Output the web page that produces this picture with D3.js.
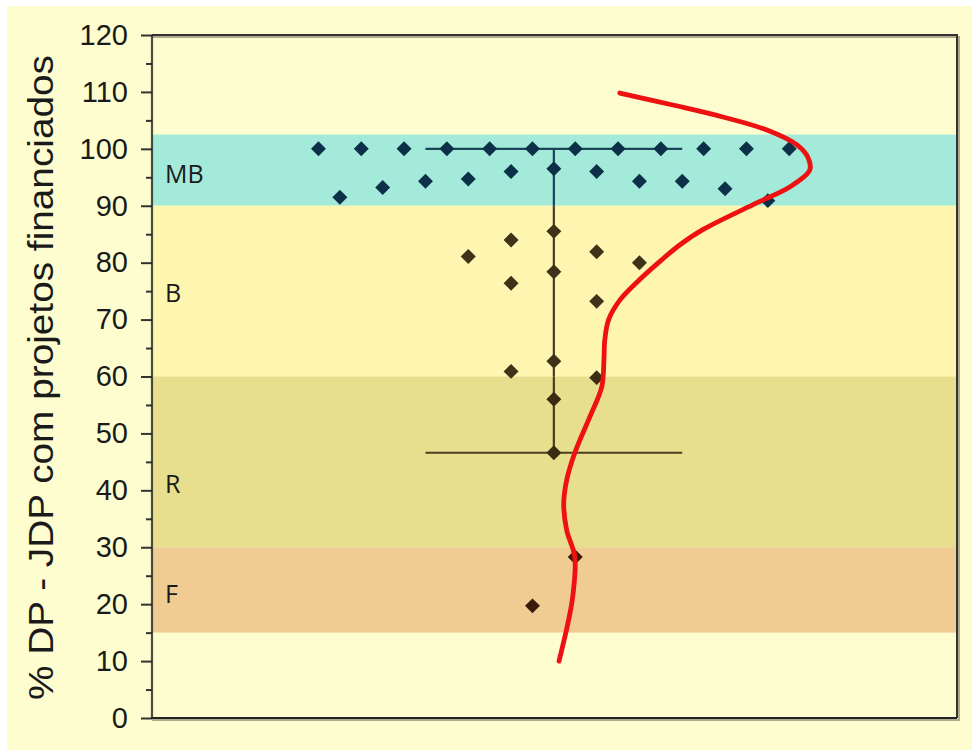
<!DOCTYPE html>
<html>
<head>
<meta charset="utf-8">
<script src="https://cdn.jsdelivr.net/npm/d3@7"></script>
<style>
  html, body { margin: 0; padding: 0; background: #ffffff; }
  svg { display: block; }
</style>
</head>
<body>
<svg id="chart" width="972" height="752"></svg>
<script>
// ---------------- data ----------------
const yTicks = [0, 10, 20, 30, 40, 50, 60, 70, 80, 90, 100, 110, 120];
const yMinorTicks = [5, 15, 25, 35, 45, 55, 65, 75, 85, 95, 105, 115];

const bandNames = ["MB", "B", "R", "F"];
const bandLow   = [90, 60, 30, 15];
const bandHigh  = [102.5, 90, 60, 30];
const bandLabelValue = [94.0, 73.1, 39.5, 20.2];

// point positions: column offset (x) and % value (y)
const pointX = [
  -5.5, -4.5, -3.5, -2.5, -1.5, -0.5, 0.5, 1.5, 2.5, 3.5, 4.5, 5.5,
  -5, -4, -3, -2, -1, 0, 1, 2, 3, 4, 5,
  0, -1, -2, 1, 2, 0, -1, 1, 0, -1, 1, 0, 0, 0.5, -0.5
];
const pointY = [
  100, 100, 100, 100, 100, 100, 100, 100, 100, 100, 100, 100,
  91.5, 93.2, 94.3, 94.7, 96.0, 96.5, 96.0, 94.3, 94.3, 93.0, 90.9,
  85.5, 84.0, 81.1, 81.9, 80.0, 78.4, 76.4, 73.2, 62.7, 60.9, 59.8, 56.0, 46.6, 28.3, 19.7
];

const whiskerHigh = 100;
const whiskerLow = 46.6;
const whiskerCap = 3;

// density curve (sideways): value (y) and width (x offset)
const densityY = [10, 16.7, 21.3, 28.3, 33, 37.5, 41.8, 46.6, 52.9, 58.2, 62.9, 66.4, 70.0, 73.5, 77.0, 80.5, 83.1, 85.8, 90.5, 93.3, 96.3, 98.6, 100.7, 103.3, 105.6, 107.7, 109.8];
const densityX = [0.12, 0.33, 0.44, 0.49, 0.30, 0.23, 0.30, 0.49, 0.84, 1.12, 1.17, 1.19, 1.28, 1.55, 2.00, 2.52, 2.94, 3.48, 4.74, 5.51, 5.98, 5.93, 5.68, 4.98, 3.95, 2.78, 1.54];

const yTitle = "% DP - JDP com projetos financiados";

// ---------------- styles ----------------
const bandFill = { MB: "#a4eadb", B: "#fdf5b0", R: "#e8df8e", F: "#f0cc92" };
const pointFill = { MB: "#0b3048", B: "#3e3218", R: "#3a2c12", F: "#3a1a08", none: "#3a1a08" };
const lineColor = { MB: "#1b4458", B: "#4a3f22", R: "#4a3f22", F: "#4a3f22", none: "#4a3f22" };

const svg = d3.select("#chart");
const M = { left: 152, right: 957, top: 35, bottom: 718 };

const y = d3.scaleLinear().domain([0, 120]).range([M.bottom, M.top]);
const x = d3.scaleLinear().domain([-9.39, 9.42]).range([M.left, M.right]);

function bandOf(v) {
  for (let i = 0; i < bandNames.length; i++) {
    if (v >= bandLow[i] && v <= bandHigh[i]) return bandNames[i];
  }
  return "none";
}

// page background
svg.append("rect").attr("x", 7).attr("y", 6).attr("width", 965).attr("height", 744).attr("fill", "#fdfdd0");

// bands
bandNames.forEach((n, i) => {
  svg.append("rect")
    .attr("x", M.left).attr("width", M.right - M.left)
    .attr("y", y(bandHigh[i])).attr("height", y(bandLow[i]) - y(bandHigh[i]))
    .attr("fill", bandFill[n]);
  svg.append("text")
    .attr("x", 165).attr("y", y(bandLabelValue[i]))
    .attr("font-family", "'Open Sans', sans-serif")
    .attr("font-size", 25)
    .attr("fill", "#1a1a1a")
    .text(n);
});

// frame shadow + frame (top & right)
svg.append("path")
  .attr("d", `M${M.left},${M.top + 2}H${M.right + 2}V${M.bottom + 2}H${M.left}`)
  .attr("fill", "none").attr("stroke", "#8a8a70").attr("stroke-width", 2).attr("opacity", 0.7);
svg.append("path")
  .attr("d", `M${M.left},${M.top}H${M.right}V${M.bottom}`)
  .attr("fill", "none").attr("stroke", "#333").attr("stroke-width", 2);

// whisker lines (split at band boundaries for colour)
const splitVals = [whiskerLow, ...bandLow.concat(bandHigh).filter(v => v > whiskerLow && v < whiskerHigh), whiskerHigh]
  .sort((a, b) => a - b);
const uniq = Array.from(new Set(splitVals));
for (let i = 0; i < uniq.length - 1; i++) {
  const a = uniq[i], b = uniq[i + 1];
  svg.append("line")
    .attr("x1", x(0)).attr("x2", x(0))
    .attr("y1", y(a)).attr("y2", y(b))
    .attr("stroke", lineColor[bandOf((a + b) / 2)]).attr("stroke-width", 2.2);
}
[whiskerHigh, whiskerLow].forEach(v => {
  svg.append("line")
    .attr("x1", x(-whiskerCap)).attr("x2", x(whiskerCap))
    .attr("y1", y(v)).attr("y2", y(v))
    .attr("stroke", lineColor[bandOf(v)]).attr("stroke-width", 2.2);
});

// points
const sym = d3.symbol().type(d3.symbolSquare).size(112);
svg.append("g").selectAll("path")
  .data(pointX.map((px, i) => ({ px, py: pointY[i] })))
  .join("path")
  .attr("d", sym)
  .attr("transform", d => `translate(${x(d.px)},${y(d.py)}) rotate(45)`)
  .attr("fill", d => pointFill[bandOf(d.py)]);

// density curve
const line = d3.line()
  .x((d, i) => x(densityX[i]))
  .y((d, i) => y(densityY[i]))
  .curve(d3.curveCatmullRom.alpha(0.5));
svg.append("path")
  .datum(densityY)
  .attr("d", line)
  .attr("fill", "none")
  .attr("stroke", "#ee1111")
  .attr("stroke-width", 4.8)
  .attr("stroke-linecap", "round");

// y axis
const axisG = svg.append("g").attr("transform", `translate(${M.left},0)`);
axisG.call(d3.axisLeft(y).tickValues(yTicks).tickSize(11).tickPadding(13).tickFormat(d3.format("d")));
axisG.select(".domain").remove();
axisG.selectAll(".tick line").attr("stroke", "#333").attr("stroke-width", 2);
axisG.selectAll(".tick text")
  .attr("font-family", "'Liberation Sans', Arial, sans-serif")
  .attr("font-size", 29).attr("fill", "#1a1a1a");

const minorG = svg.append("g").attr("transform", `translate(${M.left},0)`);
minorG.call(d3.axisLeft(y).tickValues(yMinorTicks).tickSize(6).tickFormat(""));
minorG.select(".domain").remove();
minorG.selectAll(".tick line").attr("stroke", "#333").attr("stroke-width", 2);

// axis lines
svg.append("line").attr("x1", M.left).attr("x2", M.left).attr("y1", M.top).attr("y2", M.bottom + 1)
  .attr("stroke", "#222").attr("stroke-width", 2.2).attr("opacity", 0.8);
svg.append("line").attr("x1", M.left - 1).attr("x2", M.right).attr("y1", M.bottom).attr("y2", M.bottom)
  .attr("stroke", "#222").attr("stroke-width", 2.2);

// y title
svg.append("text")
  .attr("transform", `translate(53,${(55 + 700) / 2}) rotate(-90)`)
  .attr("text-anchor", "middle")
  .attr("font-family", "'Liberation Sans', Arial, sans-serif")
  .attr("font-size", 35)
  .attr("textLength", 645)
  .attr("lengthAdjust", "spacingAndGlyphs")
  .attr("fill", "#1a1a1a")
  .text(yTitle);
</script>
</body>
</html>
